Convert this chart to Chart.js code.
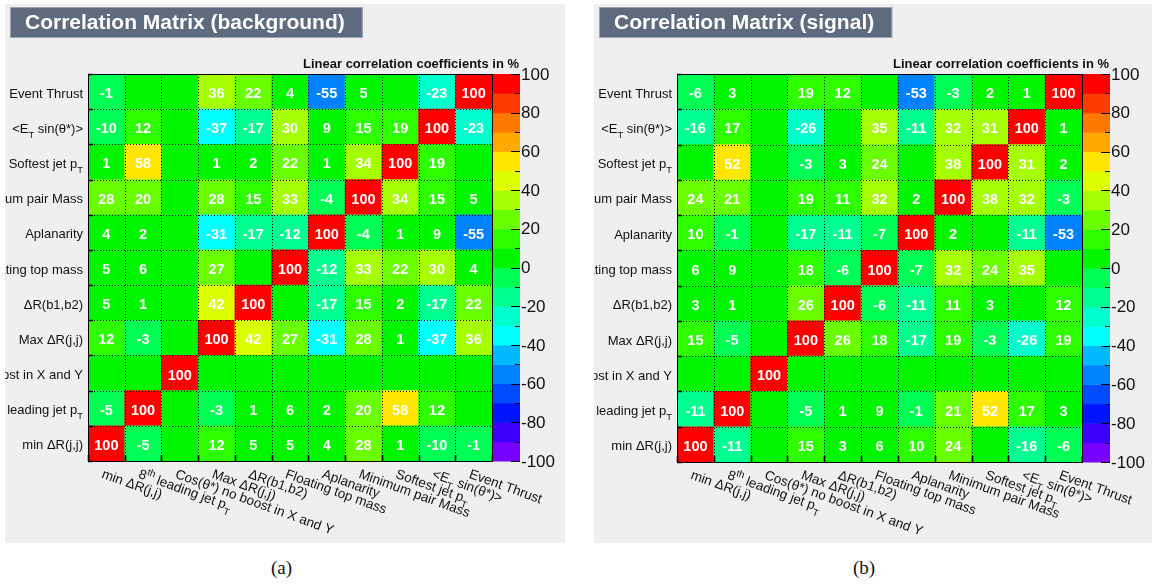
<!DOCTYPE html>
<html>
<head>
<meta charset="utf-8">
<script src="https://cdn.jsdelivr.net/npm/chart.js@4.4.0/dist/chart.umd.min.js"></script>
<style>
  html, body { margin: 0; padding: 0; background: #fff; }
  body { width: 1156px; height: 586px; position: relative; overflow: hidden; }
  canvas { position: absolute; top: 4px; }
  #bkgCanvas { left: 5px; }
  #sigCanvas { left: 594px; }
  .caption { position: absolute; top: 557px; font: 19px "Liberation Serif", "DejaVu Serif", serif; color: #111; }
</style>
</head>
<body>
<canvas id="bkgCanvas" width="560" height="539"></canvas>
<canvas id="sigCanvas" width="558" height="539"></canvas>
<div class="caption" style="left:271px">(a)</div>
<div class="caption" style="left:853px">(b)</div>
<script>
// ---------- Variables (bottom row / left column first) ----------
const varNames = [
    'min ΔR(j,j)',
    '8^{th} leading jet p_{T}',
    'Cos(θ*) no boost in X and Y',
    'Max ΔR(j,j)',
    'ΔR(b1,b2)',
    'Floating top mass',
    'Aplanarity',
    'Minimum pair Mass',
    'Softest jet p_{T}',
    '<E_{T} sin(θ*)>',
    'Event Thrust'
];

// ---------- Background correlations (%), one row per variable ----------
const bkgMinDR       = [100,  -5,   0,  12,   5,   5,   4,  28,   1, -10,  -1];
const bkgJet8Pt      = [ -5, 100,   0,  -3,   1,   6,   2,  20,  58,  12,   0];
const bkgCosTheta    = [  0,   0, 100,   0,   0,   0,   0,   0,   0,   0,   0];
const bkgMaxDR       = [ 12,  -3,   0, 100,  42,  27, -31,  28,   1, -37,  36];
const bkgDRbb        = [  5,   1,   0,  42, 100,   0, -17,  15,   2, -17,  22];
const bkgTopMass     = [  5,   6,   0,  27,   0, 100, -12,  33,  22,  30,   4];
const bkgAplanarity  = [  4,   2,   0, -31, -17, -12, 100,  -4,   1,   9, -55];
const bkgMinPairMass = [ 28,  20,   0,  28,  15,  33,  -4, 100,  34,  15,   5];
const bkgSoftPt      = [  1,  58,   0,   1,   2,  22,   1,  34, 100,  19,   0];
const bkgEtSin       = [-10,  12,   0, -37, -17,  30,   9,  15,  19, 100, -23];
const bkgThrust      = [ -1,   0,   0,  36,  22,   4, -55,   5,   0, -23, 100];

// ---------- Signal correlations (%) ----------
const sigMinDR       = [100, -11,   0,  15,   3,   6,  10,  24,   0, -16,  -6];
const sigJet8Pt      = [-11, 100,   0,  -5,   1,   9,  -1,  21,  52,  17,   3];
const sigCosTheta    = [  0,   0, 100,   0,   0,   0,   0,   0,   0,   0,   0];
const sigMaxDR       = [ 15,  -5,   0, 100,  26,  18, -17,  19,  -3, -26,  19];
const sigDRbb        = [  3,   1,   0,  26, 100,  -6, -11,  11,   3,   0,  12];
const sigTopMass     = [  6,   9,   0,  18,  -6, 100,  -7,  32,  24,  35,   0];
const sigAplanarity  = [ 10,  -1,   0, -17, -11,  -7, 100,   2,   0, -11, -53];
const sigMinPairMass = [ 24,  21,   0,  19,  11,  32,   2, 100,  38,  32,  -3];
const sigSoftPt      = [  0,  52,   0,  -3,   3,  24,   0,  38, 100,  31,   2];
const sigEtSin       = [-16,  17,   0, -26,   0,  35, -11,  32,  31, 100,   1];
const sigThrust      = [ -6,   3,   0,  19,  12,   0, -53,  -3,   2,   1, 100];

// colour axis ticks
const zTicks = [-100, -80, -60, -40, -20, 0, 20, 40, 60, 80, 100];

// 20 contour colours, from -100 up to +100
const palette = [
    'rgb(120,0,255)', 'rgb(60,0,255)', 'rgb(0,20,255)', 'rgb(0,75,255)', 'rgb(0,130,255)',
    'rgb(0,185,255)', 'rgb(0,255,255)', 'rgb(0,255,205)', 'rgb(0,255,145)', 'rgb(0,255,85)',
    'rgb(0,245,0)', 'rgb(45,255,0)', 'rgb(105,255,0)', 'rgb(165,255,0)', 'rgb(220,255,0)',
    'rgb(255,230,0)', 'rgb(255,170,0)', 'rgb(255,120,0)', 'rgb(255,60,0)', 'rgb(255,0,0)'
];

const FONT = '"Liberation Sans", Arial, Helvetica, sans-serif';

function bandColor(v) {
    const k = Math.max(0, Math.min(19, Math.floor((v + 100) / 10)));
    return palette[k];
}

// tiny latex-ish parser: x_{sub}, x^{sup}
function parseLabel(s) {
    const parts = [];
    const re = /([_^])\{([^}]*)\}/g;
    let last = 0, m;
    while ((m = re.exec(s))) {
        if (m.index > last) parts.push({ t: s.slice(last, m.index), mode: 0 });
        parts.push({ t: m[2], mode: m[1] === '_' ? 1 : 2 });
        last = re.lastIndex;
    }
    if (last < s.length) parts.push({ t: s.slice(last), mode: 0 });
    return parts;
}

function drawRich(ctx, s, x, y, size, align) {
    const parts = parseLabel(s);
    const small = size * 0.72;
    const fontOf = p => (p.mode ? small : size) + 'px ' + FONT;
    let w = 0;
    parts.forEach(p => { ctx.font = fontOf(p); p.w = ctx.measureText(p.t).width; w += p.w; });
    let cx = align === 'right' ? x - w : x;
    parts.forEach(p => {
        ctx.font = fontOf(p);
        const dy = p.mode === 1 ? size * 0.38 : (p.mode === 2 ? -size * 0.42 : 0);
        ctx.fillText(p.t, cx, y + dy);
        cx += p.w;
    });
}

// ---------- Plugin: frame, grid, texts, colour bar ----------
const matrixPlugin = {
    id: 'corrMatrix',
    beforeDraw(chart, args, opts) {
        const { ctx, width, height } = chart;
        ctx.save();
        ctx.fillStyle = '#efefef';
        ctx.fillRect(0, 0, width, height);

        ctx.font = 'bold 21px ' + FONT;
        const tw = ctx.measureText(opts.title).width;
        ctx.fillStyle = '#5e6a7e';
        ctx.fillRect(5, 3, tw + 33, 31);
        ctx.strokeStyle = '#9aa3b1';
        ctx.lineWidth = 1;
        ctx.strokeRect(5.5, 3.5, tw + 32, 30);
        ctx.fillStyle = '#fff';
        ctx.textBaseline = 'alphabetic';
        ctx.fillText(opts.title, 20, 25);
        ctx.restore();
    },
    afterDatasetsDraw(chart) {
        const { ctx, chartArea: a, scales } = chart;
        const y = scales.y, z = scales.z;
        const cols = chart.getDatasetMeta(0).data;
        const colW = cols[0].width;
        const n = cols.length;

        ctx.save();

        // dotted grid over the cells
        ctx.strokeStyle = '#000';
        ctx.lineWidth = 1;
        ctx.setLineDash([1, 2]);
        ctx.beginPath();
        for (let j = 1; j < n; j++) {
            const px = Math.round(cols[j].x - colW / 2) + 0.5;
            ctx.moveTo(px, a.top); ctx.lineTo(px, a.bottom);
        }
        for (let r = 1; r < n; r++) {
            const py = Math.round(y.getPixelForValue(r)) + 0.5;
            ctx.moveTo(a.left, py); ctx.lineTo(a.right, py);
        }
        ctx.stroke();
        ctx.setLineDash([]);

        // frame + axis ticks
        ctx.strokeRect(Math.round(a.left) + 0.5, Math.round(a.top) + 0.5,
            Math.round(a.right - a.left), Math.round(a.bottom - a.top));
        ctx.lineWidth = 1.6;
        ctx.beginPath();
        for (let r = 0; r <= n; r++) {
            const py = Math.round(y.getPixelForValue(r)) + 0.5;
            ctx.moveTo(a.left, py); ctx.lineTo(a.left + 5, py);
        }
        for (let j = 0; j <= n; j++) {
            const px = Math.round(a.left + j * colW) + 0.5;
            ctx.moveTo(px, a.bottom); ctx.lineTo(px, a.bottom - 6);
        }
        ctx.stroke();

        // cell values
        ctx.fillStyle = '#fff';
        ctx.font = 'bold 14.5px ' + FONT;
        ctx.textAlign = 'center';
        ctx.textBaseline = 'middle';
        chart.data.datasets.forEach((ds, r) => {
            const meta = chart.getDatasetMeta(r);
            meta.data.forEach((el, j) => {
                const v = ds.cellValues[j];
                if (v === 0) return;
                ctx.fillText(String(v), el.x, (el.y + el.base) / 2 + 2.5);
            });
        });

        // axis labels
        ctx.fillStyle = '#111';
        ctx.textAlign = 'left';
        ctx.textBaseline = 'alphabetic';
        chart.data.labels.forEach((lab, r) => {
            const cy = (y.getPixelForValue(r) + y.getPixelForValue(r + 1)) / 2;
            drawRich(ctx, lab, a.left - 5, cy + 6, 13, 'right');
        });
        chart.data.labels.forEach((lab, j) => {
            ctx.save();
            ctx.translate(cols[j].x - 2, a.bottom + 7);
            ctx.rotate(20 * Math.PI / 180);
            drawRich(ctx, lab, 0, 10, 13.5, 'left');
            ctx.restore();
        });

        // colour bar
        const bx = Math.round(a.right) + 1, bw = 27;
        for (let k = 0; k < palette.length; k++) {
            const y0 = z.getPixelForValue(-100 + 10 * k);
            const y1 = z.getPixelForValue(-90 + 10 * k);
            ctx.fillStyle = palette[k];
            ctx.fillRect(bx, Math.min(y0, y1), bw, Math.abs(y0 - y1) + 0.5);
        }
        ctx.strokeStyle = '#000';
        ctx.lineWidth = 1;
        ctx.beginPath();
        for (let v = -100; v <= 100; v += 10) {
            const py = Math.round(z.getPixelForValue(v)) + 0.5;
            const len = v % 20 === 0 ? 9 : 5;
            ctx.moveTo(bx + bw - len, py); ctx.lineTo(bx + bw, py);
        }
        ctx.stroke();
        ctx.fillStyle = '#111';
        ctx.font = '17px ' + FONT;
        ctx.textBaseline = 'middle';
        zTicks.forEach(v => ctx.fillText(String(v), bx + bw + 1, z.getPixelForValue(v) + 1));

        ctx.font = 'bold 13px ' + FONT;
        ctx.textAlign = 'right';
        ctx.textBaseline = 'alphabetic';
        ctx.fillText('Linear correlation coefficients in %', bx + bw - 1, a.top - 6);

        ctx.restore();
    }
};

function makeMatrix(canvasId, title, rows, pad) {
    const datasets = rows.map((row, r) => ({
        label: varNames[r],
        data: row.map(() => 1),          // one unit-high cell per column
        cellValues: row,
        backgroundColor: row.map(bandColor),
        borderWidth: 0,
        barPercentage: 1,
        categoryPercentage: 1
    }));

    return new Chart(document.getElementById(canvasId).getContext('2d'), {
        type: 'bar',
        data: { labels: varNames, datasets },
        options: {
            responsive: false,
            animation: false,
            events: [],
            layout: { padding: pad },
            scales: {
                x: { stacked: true, display: false },
                y: { stacked: true, display: false, min: 0, max: varNames.length },
                z: { type: 'linear', position: 'right', display: false, min: -100, max: 100 }
            },
            plugins: {
                legend: { display: false },
                tooltip: { enabled: false },
                corrMatrix: { title }
            }
        },
        plugins: [matrixPlugin]
    });
}

makeMatrix('bkgCanvas', 'Correlation Matrix (background)',
    [bkgMinDR, bkgJet8Pt, bkgCosTheta, bkgMaxDR, bkgDRbb, bkgTopMass,
     bkgAplanarity, bkgMinPairMass, bkgSoftPt, bkgEtSin, bkgThrust],
    { left: 83, top: 70, right: 73, bottom: 82 });

makeMatrix('sigCanvas', 'Correlation Matrix (signal)',
    [sigMinDR, sigJet8Pt, sigCosTheta, sigMaxDR, sigDRbb, sigTopMass,
     sigAplanarity, sigMinPairMass, sigSoftPt, sigEtSin, sigThrust],
    { left: 83, top: 70, right: 70, bottom: 81 });
</script>
</body>
</html>
